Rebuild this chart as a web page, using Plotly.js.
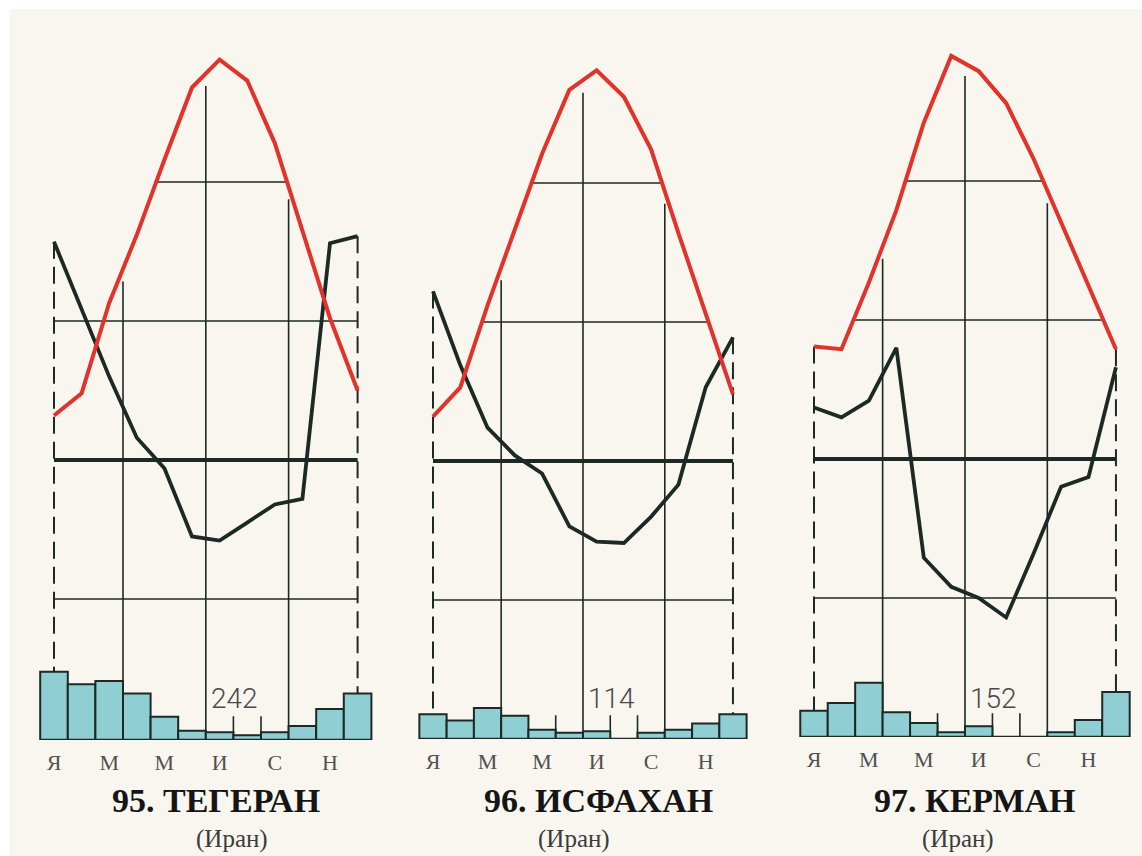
<!DOCTYPE html>
<html><head><meta charset="utf-8">
<script src="https://cdn.plot.ly/plotly-3.0.1.min.js"></script>
<style>html,body{margin:0;padding:0;background:#fff}#chart{width:1142px;height:856px}</style>
</head><body><div id="chart"></div>
<script>
// ---------- DATA ----------
const months = ['Янв','Фев','Мар','Апр','Май','Июн','Июл','Авг','Сен','Окт','Ноя','Дек'];
const monthTickVals = [0, 2, 4, 6, 8, 10];
const monthTickText = ['Я', 'М', 'М', 'И', 'С', 'Н'];
const stationNames = ['95. ТЕГЕРАН', '96. ИСФАХАН', '97. КЕРМАН'];
const countryNames = ['(Иран)', '(Иран)', '(Иран)'];
const annualPrecip = ['242', '114', '152'];

// red curve (air temperature, °C)
const tempTehran  = [3.2, 4.8, 11.3, 16.2, 21.6, 26.8, 28.8, 27.3, 22.8, 16.5, 10.2, 5.0];
const tempIsfahan = [3.2, 5.3, 11.2, 16.6, 22.1, 26.7, 28.1, 26.2, 22.4, 16.4, 10.6, 4.8];
const tempKerman  = [8.1, 7.9, 12.7, 17.9, 24.2, 29.0, 27.9, 25.6, 21.6, 17.0, 12.4, 7.9];

// black curve (same chart scale)
const blackTehran  = [15.7, 10.9, 6.0, 1.6, -0.6, -5.5, -5.8, -4.5, -3.2, -2.8, 15.6, 16.1];
const blackIsfahan = [12.2, 6.9, 2.4, 0.4, -0.9, -4.7, -5.8, -5.9, -4.0, -1.7, 5.3, 8.9];
const blackKerman  = [3.7, 3.0, 4.2, 8.0, -7.1, -9.2, -10.0, -11.4, -6.8, -2.0, -1.3, 6.6];

// precipitation, mm
const precTehran  = [44, 36, 38, 30, 15, 6, 5, 3, 5, 9, 20, 30];
const precIsfahan = [16, 12, 20, 15, 6, 4, 5, 0, 4, 6, 10, 16];
const precKerman  = [17, 22, 35, 16, 9, 3, 7, 0, 0, 3, 11, 29];

const temps = [tempTehran, tempIsfahan, tempKerman];
const blacks = [blackTehran, blackIsfahan, blackKerman];
const precs = [precTehran, precIsfahan, precKerman];

// ---------- LAYOUT GEOMETRY ----------
const W = 1142, H = 856;
const PX_PER_UNIT = 13.9, PX_PER_MM = 1.55;
const geom = [
  {x0: 54,  dx: 27.6,  zero: 460, base: 740, fullLevels: [10]},
  {x0: 433, dx: 27.27, zero: 461, base: 739, fullLevels: []},
  {x0: 814, dx: 27.45, zero: 459, base: 737, fullLevels: []}
];
const titleCx = [216, 598, 975];
const subCx = [232, 574, 958];
const levels = [20, 10, 0, -10];
const vGrid = [2.5, 5.5, 8.5];
const smallTicks = [4.5, 6.5, 7.5];
const ink = '#1d2925', red = '#e2332b';

function interp(v, x) {
  const i = Math.min(Math.floor(x), v.length - 2), t = x - i;
  return v[i] + (v[i + 1] - v[i]) * t;
}
function crossings(v, L) {
  const c = [];
  for (let i = 0; i < v.length - 1; i++) {
    if ((v[i] - L) * (v[i + 1] - L) <= 0 && v[i] !== v[i + 1]) c.push(i + (L - v[i]) / (v[i + 1] - v[i]));
  }
  if (!c.length) return [0, 11];
  return [Math.min(...c), Math.max(...c)];
}

const xIdx = months.map((_, i) => i);
const traces = [], shapes = [], annotations = [];
const layout = {
  width: W, height: H, margin: {l: 0, r: 0, t: 0, b: 0},
  paper_bgcolor: '#f8f6ef', plot_bgcolor: 'rgba(0,0,0,0)',
  showlegend: false, shapes, annotations
};

// white scan border
shapes.push({type: 'rect', xref: 'paper', yref: 'paper', x0: 0, x1: 1, y0: 1 - 9 / H, y1: 1, fillcolor: '#ffffff', line: {width: 0}, layer: 'below'});
shapes.push({type: 'rect', xref: 'paper', yref: 'paper', x0: 0, x1: 10 / W, y0: 0, y1: 1, fillcolor: '#ffffff', line: {width: 0}, layer: 'below'});

geom.forEach((g, p) => {
  const s = p === 0 ? '' : String(p + 1);
  const xa = 'x' + s, ya = 'y' + s;
  const yBottom = -(g.base - g.zero) / PX_PER_UNIT;
  const yTop = g.zero / PX_PER_UNIT;
  const mmK = PX_PER_MM / PX_PER_UNIT;
  layout['xaxis' + s] = {
    domain: [(g.x0 - 0.6 * g.dx) / W, (g.x0 + 11.6 * g.dx) / W],
    range: [-0.6, 11.6], anchor: ya, showgrid: false, zeroline: false, showline: false,
    ticks: '', tickvals: monthTickVals, ticktext: monthTickText, ticklabelstandoff: 7,
    tickfont: {family: 'Liberation Serif, DejaVu Serif, serif', size: 22, color: '#505050'},
    fixedrange: true
  };
  layout['yaxis' + s] = {
    domain: [(H - g.base) / H, 1], range: [yBottom, yTop], anchor: xa,
    visible: false, fixedrange: true
  };
  const t = temps[p], b = blacks[p], pr = precs[p];
  const barTop = pr.map(v => yBottom + v * mmK);

  // grid lines
  levels.forEach(L => {
    let ext = [0, 11];
    if (L > 0 && g.fullLevels.indexOf(L) < 0) ext = crossings(t, L);
    shapes.push({type: 'line', xref: xa, yref: ya, x0: ext[0], x1: ext[1], y0: L, y1: L,
      line: {color: ink, width: L === 0 ? 4.2 : 1.6}, layer: 'below'});
  });
  vGrid.forEach(xv => {
    shapes.push({type: 'line', xref: xa, yref: ya, x0: xv, x1: xv, y0: yBottom, y1: interp(t, xv) - 0.9,
      line: {color: ink, width: 1.6}, layer: 'below'});
  });
  smallTicks.forEach(xv => {
    shapes.push({type: 'line', xref: xa, yref: ya, x0: xv, x1: xv, y0: yBottom, y1: yBottom + 1.7,
      line: {color: ink, width: 1.6}, layer: 'below'});
  });
  [0, 11].forEach(i => {
    shapes.push({type: 'line', xref: xa, yref: ya, x0: i, x1: i, y0: Math.max(t[i], b[i]), y1: barTop[i],
      line: {color: ink, width: 2, dash: '17px,8px'}, layer: 'below'});
  });
  shapes.push({type: 'line', xref: xa, yref: ya, x0: -0.5, x1: 11.5, y0: yBottom, y1: yBottom,
    line: {color: ink, width: 2.5}, layer: 'above'});

  traces.push({type: 'bar', x: xIdx, y: pr.map(v => v * mmK), base: yBottom, width: 1,
    xaxis: xa, yaxis: ya, marker: {color: '#8fcfd4', line: {color: ink, width: 2}},
    hoverinfo: 'skip'});
  traces.push({type: 'scatter', mode: 'lines', x: xIdx, y: b, xaxis: xa, yaxis: ya,
    line: {color: ink, width: 3.8}, hoverinfo: 'skip'});
  traces.push({type: 'scatter', mode: 'lines', x: xIdx, y: t, xaxis: xa, yaxis: ya,
    line: {color: red, width: 4}, hoverinfo: 'skip'});

  annotations.push({xref: xa, yref: ya, x: 6.55, y: (g.zero - 698) / PX_PER_UNIT, text: annualPrecip[p],
    showarrow: false, xanchor: 'center', yanchor: 'middle',
    font: {family: 'Roboto, Liberation Sans, sans-serif', size: 28, weight: 300, color: '#4a4a4a'}});
  annotations.push({xref: 'paper', yref: 'paper', x: titleCx[p] / W, y: 1 - 800 / H, text: '<b>' + stationNames[p] + '</b>',
    showarrow: false, xanchor: 'center', yanchor: 'middle',
    font: {family: 'Liberation Serif, DejaVu Serif, serif', size: 34, color: '#151515'}});
  annotations.push({xref: 'paper', yref: 'paper', x: subCx[p] / W, y: 2 / H, text: countryNames[p],
    showarrow: false, xanchor: 'center', yanchor: 'bottom', borderpad: 0,
    font: {family: 'Liberation Serif, DejaVu Serif, serif', size: 25, color: '#3c3c3c'}});
});

Plotly.newPlot('chart', traces, layout, {displayModeBar: false, staticPlot: true});
</script></body></html>
